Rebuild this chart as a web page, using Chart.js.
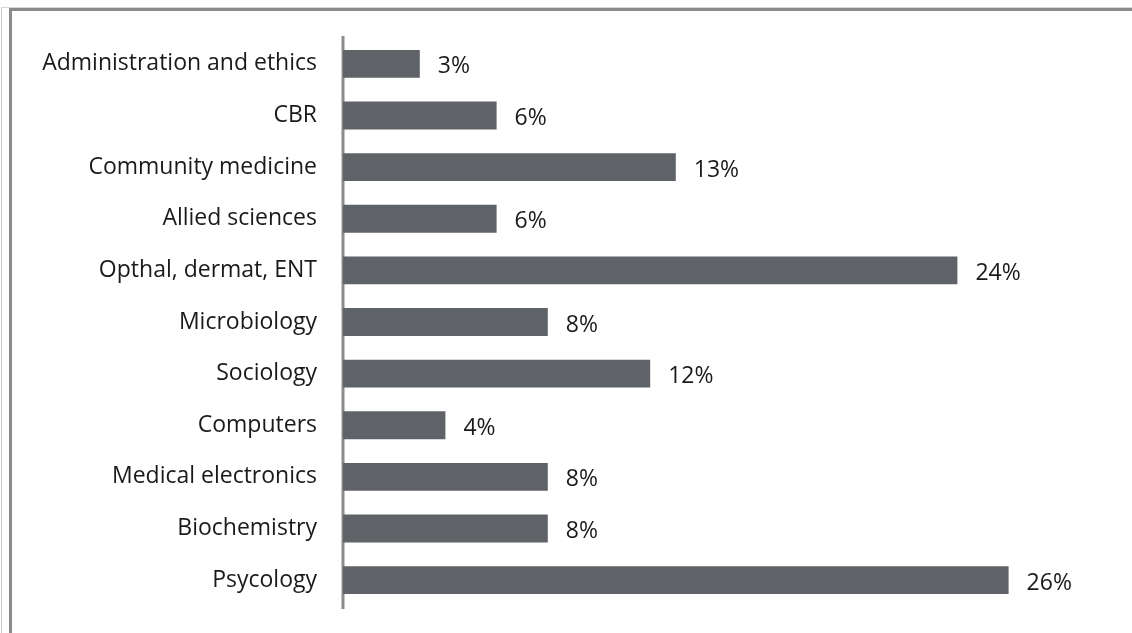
<!DOCTYPE html>
<html>
<head>
<meta charset="utf-8">
<script src="https://cdn.jsdelivr.net/npm/chart.js@4"></script>
<style>
  html, body { margin: 0; padding: 0; background: #fff; overflow: hidden; }
  #outer { position: absolute; left: 1px; top: 7px; width: 1131px; height: 626px;
           border-left: 1px solid #c8c8c8; border-top: 1px solid #d8d8d8; }
  #frame { position: absolute; left: 9px; top: 8px; width: 1123px; height: 625px;
           border-left: 3px solid #8a8a8a; border-top: 3px solid #8a8a8a; }
  #wrap { position: absolute; left: 0; top: 0; width: 1132px; height: 633px; }
</style>
</head>
<body>
<div id="outer"></div>
<div id="frame"></div>
<div id="wrap"><canvas id="barchart" width="1132" height="633"></canvas></div>
<script>
// subjects and their share in percent
const subjects = ['Administration and ethics', 'CBR', 'Community medicine', 'Allied sciences',
  'Opthal, dermat, ENT', 'Microbiology', 'Sociology', 'Computers',
  'Medical electronics', 'Biochemistry', 'Psycology'];
const shares = [3, 6, 13, 6, 24, 8, 12, 4, 8, 8, 26];

const FONT = 'Open Sans';

// vertical axis line, a little longer than the plot area
const axisLine = {
  id: 'axisLine',
  beforeDatasetsDraw(chart) {
    const { ctx, chartArea } = chart;
    ctx.save();
    ctx.strokeStyle = '#8c8c8c';
    ctx.lineWidth = 3;
    ctx.beginPath();
    ctx.moveTo(chartArea.left, chartArea.top - 2);
    ctx.lineTo(chartArea.left, chartArea.bottom + 3);
    ctx.stroke();
    ctx.restore();
  }
};

// writes the percent next to the end of each bar
const valueLabels = {
  id: 'valueLabels',
  afterDatasetsDraw(chart) {
    const ctx = chart.ctx;
    const meta = chart.getDatasetMeta(0);
    ctx.save();
    ctx.font = '23px "' + FONT + '"';
    ctx.fillStyle = '#1a1a1a';
    ctx.textAlign = 'left';
    ctx.textBaseline = 'middle';
    meta.data.forEach((bar, i) => {
      ctx.fillText(shares[i] + '%', bar.x + 18, bar.y + 3);
    });
    ctx.restore();
  }
};

const ctx = document.getElementById('barchart').getContext('2d');
new Chart(ctx, {
  type: 'bar',
  data: {
    labels: subjects,
    datasets: [{
      data: shares,
      backgroundColor: '#5f6367',
      barPercentage: 0.54,
      categoryPercentage: 1
    }]
  },
  options: {
    indexAxis: 'y',
    responsive: false,
    animation: false,
    layout: { padding: { top: 38, bottom: 27, left: 0, right: 21 } },
    plugins: { legend: { display: false }, tooltip: { enabled: false } },
    scales: {
      x: { display: false, min: 0, max: 30 },
      y: {
        afterFit(scale) {
          // fixed axis width, and no extra room for the end labels
          scale.width = 343;
          scale.paddingTop = 0;
          scale.paddingBottom = 0;
        },
        grid: { display: false, drawTicks: false },
        border: { display: false },
        ticks: { color: '#1a1a1a', padding: 26, font: { family: FONT, size: 23 } }
      }
    }
  },
  plugins: [axisLine, valueLabels]
});
</script>
</body>
</html>
